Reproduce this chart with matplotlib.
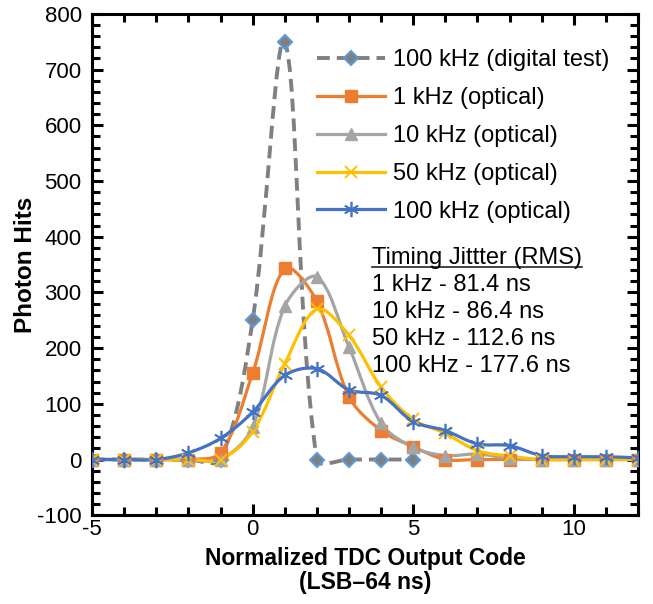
import matplotlib
matplotlib.use('Agg')
import matplotlib.pyplot as plt
from matplotlib.path import Path
from matplotlib.patches import PathPatch
from matplotlib.lines import Line2D
from matplotlib.ticker import MultipleLocator
import numpy as np

plt.rcParams['font.family'] = ['Liberation Sans', 'DejaVu Sans']
plt.rcParams['axes.unicode_minus'] = False

# data
x_digital = [-5, -4, -3, -2, -1, 0, 1, 2, 3, 4, 5]
y_digital = [0, 0, 0, 0, 0, 250, 750, 0, 0, 0, 0]

x_opt = list(range(-5, 13))
y_1k = [0, 0, 0, 0, 12, 155, 343, 284, 113, 52, 23, 0, 0, 0, 0, 0, 0, 0]
y_10k = [0, 0, 0, 0, 0, 58, 275, 328, 202, 65, 22, 7, 10, 2, 0, 0, 0, 0]
y_50k = [0, 0, 0, 0, 0, 50, 172, 270, 223, 130, 72, 47, 16, 6, 0, 0, 0, 0]
y_100k = [0, 0, 0, 12, 38, 85, 151, 163, 125, 115, 68, 52, 28, 25, 7, 5, 5, 3]

labels = ['100 kHz (digital test)', '1 kHz (optical)', '10 kHz (optical)',
          '50 kHz (optical)', '100 kHz (optical)']
jitter_title = 'Timing Jittter (RMS)'
jitter = ['1 kHz - 81.4 ns', '10 kHz - 86.4 ns', '50 kHz - 112.6 ns', '100 kHz - 177.6 ns']


def smooth_path(ax, xs, ys):
    # Excel-like smoothed line: Bezier control points worked out in screen space
    tr = ax.transData
    p = tr.transform(np.column_stack([xs, ys]).astype(float))
    n = len(p)
    verts = [p[0]]
    codes = [Path.MOVETO]
    for i in range(n - 1):
        p0 = p[i - 1] if i > 0 else p[i]
        p1, p2 = p[i], p[i + 1]
        p3 = p[i + 2] if i + 2 < n else p[i + 1]
        d01 = np.hypot(*(p1 - p0))
        d12 = np.hypot(*(p2 - p1))
        d23 = np.hypot(*(p3 - p2))
        f1 = d12 / (d01 + d12) if d01 + d12 > 0 else 0
        f2 = d12 / (d12 + d23) if d12 + d23 > 0 else 0
        c1 = p1 + (p2 - p0) * f1 / 3
        c2 = p2 - (p3 - p1) * f2 / 3
        verts += [c1, c2, p2]
        codes += [Path.CURVE4] * 3
    verts = tr.inverted().transform(np.array(verts))
    return Path(verts, codes)


fig = plt.figure(figsize=(6.53, 6.04), dpi=100)
ax = fig.add_axes([0.141, 0.147, 0.836, 0.830])
ax.set_xlim(-5, 12)
ax.set_ylim(-100, 800)

series = [
    (x_digital, y_digital, '#808080', dict(marker='D', ms=7.5, mfc='#808080', mec='#5b9bd5', mew=1.5), (0, (3.3, 1.8)), 2.8),
    (x_opt, y_1k, '#ed7d31', dict(marker='s', ms=8, mfc='#ed7d31', mec='#ed7d31'), '-', 2.3),
    (x_opt, y_10k, '#a5a5a5', dict(marker='^', ms=9, mfc='#a5a5a5', mec='#a5a5a5'), '-', 2.3),
    (x_opt, y_50k, '#ffc000', dict(marker='x', ms=9, mec='#ffc000', mew=1.4), '-', 2.3),
    (x_opt, y_100k, '#4472c4', dict(marker=(6, 2, 0), ms=11, mec='#4472c4', mew=1.2), '-', 2.3),
]

handles = []
for xs, ys, c, mk, ls, lw in series:
    ax.add_patch(PathPatch(smooth_path(ax, xs, ys), fill=False, edgecolor=c, lw=lw,
                           linestyle=ls, capstyle='butt', zorder=2))
    ax.plot(xs, ys, linestyle='none', zorder=3, **mk)
    handles.append(Line2D([], [], color=c, lw=lw, linestyle=ls, **mk))

ax.legend(handles, labels, loc='upper left', bbox_to_anchor=(0.412, 0.929),
          frameon=False, fontsize=17, handlelength=2.9, handletextpad=0.3,
          labelspacing=0.67, borderaxespad=0, borderpad=0)

ax.xaxis.set_major_locator(MultipleLocator(5))
ax.xaxis.set_minor_locator(MultipleLocator(1))
ax.yaxis.set_major_locator(MultipleLocator(100))
ax.yaxis.set_minor_locator(MultipleLocator(20))
ax.tick_params(which='both', direction='in', top=True, right=True, width=2.2, labelsize=16)
ax.tick_params(which='major', length=8)
ax.tick_params(which='minor', length=6)
ax.tick_params(axis='x', pad=3)
ax.tick_params(axis='y', pad=7.5)
for s in ax.spines.values():
    s.set_linewidth(2.2)

ax.set_xlabel('Normalized TDC Output Code\n(LSB\u201364 ns)', fontsize=16.5, fontweight='bold',
              linespacing=1.05, labelpad=5)
ax.set_ylabel('Photon Hits', fontsize=17.5, fontweight='bold', labelpad=0)

t = ax.text(0.513, 0.513, jitter_title, transform=ax.transAxes, fontsize=17, va='center')
for i, s in enumerate(jitter):
    ax.text(0.513, 0.459 - i * 0.0535, s, transform=ax.transAxes, fontsize=17, va='center')

# underline the heading
fig.canvas.draw()
bb = t.get_window_extent().transformed(ax.transAxes.inverted())
ax.add_line(Line2D([bb.x0, bb.x1], [bb.y0 + 0.004, bb.y0 + 0.004], transform=ax.transAxes,
                   color='#222222', lw=1.2))

fig.savefig('out.png', dpi=100)
